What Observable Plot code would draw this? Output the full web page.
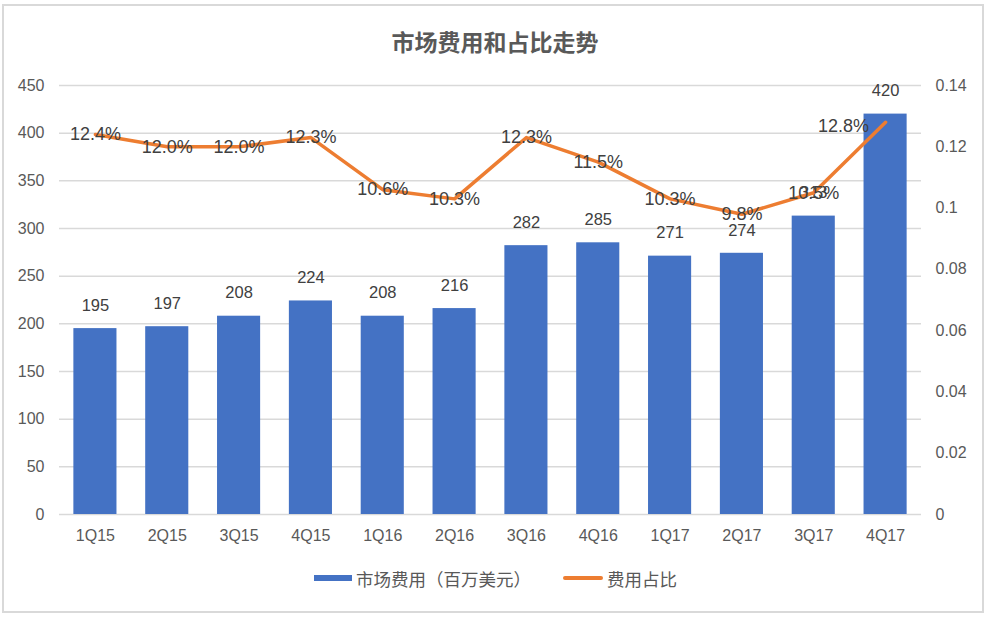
<!DOCTYPE html>
<html>
<head>
<meta charset="utf-8">
<script src="https://cdn.jsdelivr.net/npm/d3@7"></script>
<script src="https://cdn.jsdelivr.net/npm/@observablehq/plot@0.6"></script>
<style>
  body { margin:0; background:#fff; font-family:"Liberation Sans","Noto Sans CJK SC",sans-serif; }
  #frame { position:absolute; left:2px; top:4px; width:978px; height:605px; border:2px solid #d9d9d9; box-sizing:content-box; }
  #title { position:absolute; left:0; width:990px; top:24px; text-align:center; font-family:"Noto Sans CJK SC",sans-serif; font-weight:bold; font-size:23px; color:#595959; }
  #chart { position:absolute; left:0; top:64px; }
  #legend { position:absolute; top:566px; left:0; width:990px; font-family:"Noto Sans CJK SC",sans-serif; font-size:17.5px; color:#595959; }
  .li { position:absolute; top:0; display:flex; align-items:center; height:24px; }
  .sw { display:inline-block; margin-right:4px; }
</style>
</head>
<body>
<div id="frame"></div>
<div id="title">市场费用和占比走势</div>
<div id="chart"></div>
<div id="legend">
  <div class="li" style="left:314px"><span class="sw" style="width:38px;height:6px;background:#4472C4"></span>市场费用（百万美元）</div>
  <div class="li" style="left:563px"><span class="sw" style="width:40px;height:4px;border-radius:2px;background:#ED7D31"></span>费用占比</div>
</div>
<script>
const quarters = ["1Q15","2Q15","3Q15","4Q15","1Q16","2Q16","3Q16","4Q16","1Q17","2Q17","3Q17","4Q17"];
const spend = [195,197,208,224,208,216,282,285,271,274,313,420];
const share = [0.124,0.120,0.120,0.123,0.106,0.103,0.123,0.115,0.103,0.098,0.105,0.128];
const leftTicks = [0,50,100,150,200,250,300,350,400,450];
const rightTicks = [0,0.02,0.04,0.06,0.08,0.10,0.12,0.14];

const k = 450 / 0.14;
const data = quarters.map((q, i) => ({q, spend: spend[i], share: share[i]}));
const last = data.length - 1;

const plot = Plot.plot({
  width: 990,
  height: 490,
  marginTop: 21,
  marginBottom: 40,
  marginLeft: 59,
  marginRight: 69,
  style: {fontFamily: "Liberation Sans, Noto Sans CJK SC, sans-serif", fontSize: "16px", color: "#595959", background: "transparent"},
  x: {domain: quarters, paddingInner: 0.4, paddingOuter: 0.2, round: false, label: null},
  y: {domain: [0, 450], label: null},
  marks: [
    Plot.gridY(leftTicks, {stroke: "#d9d9d9", strokeOpacity: 1, strokeWidth: 1.5}),
    Plot.barY(data, {x: "q", y: "spend", fill: "#4472C4"}),
    Plot.text(data, {x: "q", y: "spend", text: d => String(d.spend), dy: -23, fontSize: 16.5, fill: "#404040"}),
    Plot.lineY(data, {x: "q", y: d => d.share * k, stroke: "#ED7D31", strokeWidth: 3.5, strokeLinejoin: "round"}),
    Plot.text(data.filter((d, i) => i !== last), {x: "q", y: d => d.share * k, text: d => (d.share * 100).toFixed(1) + "%", fontSize: 18, fill: "#404040"}),
    Plot.text(data.filter((d, i) => i === last), {x: "q", y: d => d.share * k, text: d => (d.share * 100).toFixed(1) + "%", fontSize: 18, fill: "#404040", dx: -42, dy: 4}),
    Plot.axisX({tickSize: 0, tickPadding: 15, fontSize: 16, label: null}),
    Plot.axisY(leftTicks, {anchor: "left", tickSize: 0, tickPadding: 15, fontSize: 16, label: null}),
    Plot.axisY(rightTicks.map(v => v * k), {anchor: "right", tickSize: 0, tickPadding: 14, fontSize: 16, label: null, tickFormat: d => String(+(d / k).toFixed(2))})
  ]
});
document.getElementById("chart").appendChild(plot);
</script>
</body>
</html>
